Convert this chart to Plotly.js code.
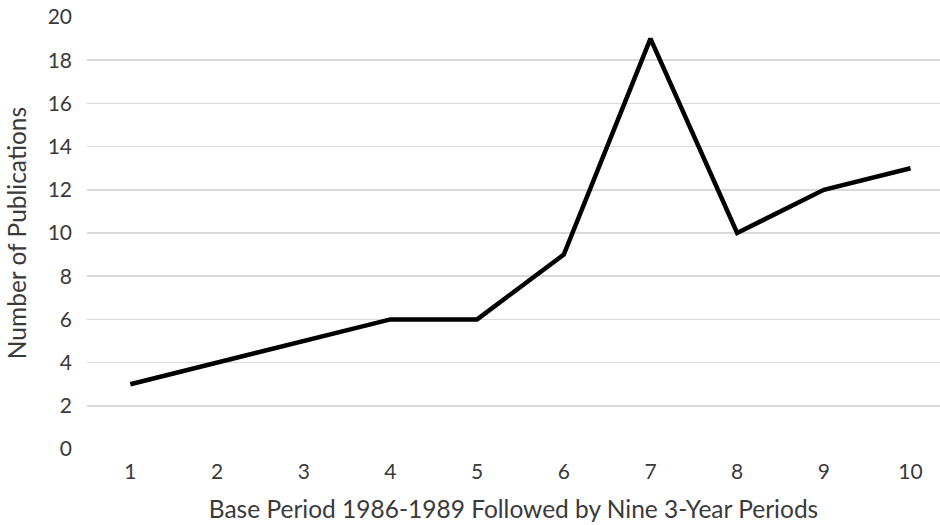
<!DOCTYPE html>
<html>
<head>
<meta charset="utf-8">
<script src="https://cdn.plot.ly/plotly-3.0.1.min.js"></script>
<style>html,body{margin:0;padding:0;background:#fff;}#chart{width:940px;height:525px;}</style>
</head>
<body>
<div id="chart"></div>
<script>
const periods = [1, 2, 3, 4, 5, 6, 7, 8, 9, 10];
const publications = [3, 4, 5, 6, 6, 9, 19, 10, 12, 13];
const yTicks = [0, 2, 4, 6, 8, 10, 12, 14, 16, 18, 20];

const trace = {
  x: periods,
  y: publications,
  type: 'scatter',
  mode: 'lines',
  line: {color: '#000000', width: 4.5},
  hoverinfo: 'skip'
};

const layout = {
  width: 940,
  height: 525,
  margin: {l: 87, r: 0, t: 17, b: 76},
  paper_bgcolor: '#ffffff',
  plot_bgcolor: '#ffffff',
  showlegend: false,
  font: {family: 'Lato, "Open Sans", sans-serif', color: '#3a3a3a', size: 21},
  xaxis: {
    range: [0.5, 10.34],
    tickvals: periods,
    ticktext: periods.map(String),
    showgrid: false,
    zeroline: false,
    showline: false,
    ticks: '',
    ticklen: 0,
    automargin: false,
    tickfont: {size: 21, color: '#3a3a3a'},
    ticklabelstandoff: 8,
    title: {text: 'Base Period 1986-1989 Followed by Nine 3-Year Periods', font: {size: 24.5, color: '#3a3a3a'}, standoff: 18}
  },
  yaxis: {
    range: [0, 20],
    tickvals: yTicks,
    showgrid: true,
    gridcolor: '#d9d9d9',
    gridwidth: 1.5,
    zeroline: false,
    showline: false,
    ticks: '',
    automargin: false,
    tickfont: {size: 21, color: '#3a3a3a'},
    ticklabelstandoff: 14,
    title: {text: 'Number of Publications', font: {size: 24.5, color: '#3a3a3a'}, standoff: 14}
  }
};

Plotly.newPlot('chart', [trace], layout, {staticPlot: true, displayModeBar: false});
</script>
</body>
</html>
